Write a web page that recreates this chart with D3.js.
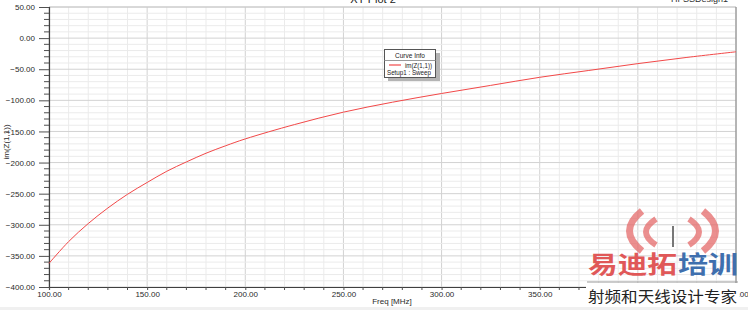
<!DOCTYPE html>
<html>
<head>
<meta charset="utf-8">
<script src="https://cdn.jsdelivr.net/npm/d3@7"></script>
<style>
  body { margin: 0; background: #fff; }
  text { font-family: "Liberation Sans", Arial, sans-serif; }
</style>
</head>
<body>
<script>
// values
var freqMHz = [100, 110, 120, 130, 140, 150, 160, 170, 180, 190, 200, 225, 250, 275, 300, 325, 350, 375, 400, 425, 450];
var imZ11 = [-362, -327, -298, -273, -251, -232, -214, -199, -185, -173, -162, -139, -119, -103, -89, -76, -63, -52, -41, -31, -22];
var xTicks = [100, 150, 200, 250, 300, 350, 400, 450];
var yTicks = [50, 0, -50, -100, -150, -200, -250, -300, -350, -400];

var svgWidth = 748;
var svgHeight = 310;
var plot = { left: 49, right: 736, top: 7, bottom: 287 };

var svg = d3.select("body")
  .append("svg")
    .attr("width", svgWidth)
    .attr("height", svgHeight);

var x = d3.scaleLinear().domain([100, 450]).range([plot.left, plot.right]);
var y = d3.scaleLinear().domain([-400, 50]).range([plot.bottom, plot.top]);

// grid
var minorX = d3.range(100, 451, 10);
var minorY = d3.range(-400, 51, 10);
svg.append("g").selectAll("line").data(minorX).enter().append("line")
  .attr("x1", d => x(d)).attr("x2", d => x(d))
  .attr("y1", plot.top).attr("y2", plot.bottom)
  .attr("stroke", d => d % 50 == 0 ? "#d2d2d2" : "#ebebeb")
  .attr("stroke-width", 1);
svg.append("g").selectAll("line").data(minorY).enter().append("line")
  .attr("x1", plot.left).attr("x2", plot.right)
  .attr("y1", d => y(d)).attr("y2", d => y(d))
  .attr("stroke", d => d % 50 == 0 ? "#d2d2d2" : "#ebebeb")
  .attr("stroke-width", 1);

// frame
svg.append("line").attr("x1", plot.left).attr("x2", plot.right).attr("y1", plot.top).attr("y2", plot.top)
  .attr("stroke", "#c8c8c8");
svg.append("line").attr("x1", plot.right).attr("x2", plot.right).attr("y1", plot.top).attr("y2", plot.bottom)
  .attr("stroke", "#808080");

// axes
var yAxis = svg.append("g")
  .attr("transform", "translate(" + plot.left + ",0)")
  .call(d3.axisLeft(y).tickValues(yTicks).tickSize(10).tickFormat(d3.format(".2f")));
var xAxis = svg.append("g")
  .attr("transform", "translate(0," + plot.bottom + ")")
  .call(d3.axisBottom(x).tickValues(xTicks).tickSize(3).tickFormat(d3.format(".2f")));

[yAxis, xAxis].forEach(function(a) {
  a.select(".domain").attr("stroke", "#404040").attr("stroke-width", 1.2);
  a.selectAll(".tick line").attr("stroke", "#505050");
  a.selectAll(".tick text").attr("font-size", 8).attr("fill", "#2a2a2a")
    .style("font-family", "'Liberation Sans', Arial, sans-serif");
});
yAxis.selectAll(".tick text").attr("x", -14);
xAxis.selectAll(".tick text").attr("y", 4);

// minor ticks
svg.append("g").selectAll("line").data(minorY.filter(d => d % 50 != 0)).enter().append("line")
  .attr("x1", plot.left - 5).attr("x2", plot.left)
  .attr("y1", d => y(d)).attr("y2", d => y(d))
  .attr("stroke", "#505050");
svg.append("g").selectAll("line").data(minorX.filter(d => d % 50 != 0)).enter().append("line")
  .attr("x1", d => x(d)).attr("x2", d => x(d))
  .attr("y1", plot.bottom).attr("y2", plot.bottom + 3)
  .attr("stroke", "#505050");

// curve
var line = d3.line()
  .x((d, i) => x(freqMHz[i]))
  .y(d => y(d))
  .curve(d3.curveCatmullRom.alpha(0.5));
svg.append("path")
  .datum(imZ11)
  .attr("d", line)
  .attr("fill", "none")
  .attr("stroke", "#f24848")
  .attr("stroke-width", 1);

// titles
svg.append("text").attr("x", 373).attr("y", 3).attr("text-anchor", "middle")
  .attr("font-size", 11).attr("fill", "#222").text("XY Plot 2");
svg.append("text").attr("x", 728).attr("y", 2).attr("text-anchor", "end")
  .attr("font-size", 9).attr("fill", "#333").text("HFSSDesign1");
svg.append("text").attr("x", 392).attr("y", 304).attr("text-anchor", "middle")
  .attr("font-size", 8).attr("fill", "#2a2a2a").text("Freq [MHz]");
svg.append("text")
  .attr("transform", "translate(9,142) rotate(-90)")
  .attr("text-anchor", "middle")
  .attr("font-size", 8).attr("fill", "#2a2a2a").text("im(Z(1,1))");

// legend
var lg = svg.append("g").attr("transform", "translate(384,49)");
lg.append("rect").attr("x", 4).attr("y", 4).attr("width", 52).attr("height", 28).attr("fill", "#b4b4b4");
lg.append("rect").attr("x", 0.5).attr("y", 0.5).attr("width", 51).attr("height", 28)
  .attr("fill", "#fff").attr("stroke", "#555");
lg.append("text").attr("x", 26).attr("y", 9).attr("text-anchor", "middle")
  .attr("font-size", 6.5).attr("fill", "#222").text("Curve Info");
lg.append("line").attr("x1", 0.5).attr("x2", 51.5).attr("y1", 11.5).attr("y2", 11.5).attr("stroke", "#999");
lg.append("line").attr("x1", 5).attr("x2", 17).attr("y1", 16).attr("y2", 16)
  .attr("stroke", "#f24848").attr("stroke-width", 1.2);
lg.append("text").attr("x", 21).attr("y", 18.5)
  .attr("font-size", 6.5).attr("fill", "#222")
  .attr("textLength", 27).attr("lengthAdjust", "spacingAndGlyphs").text("im(Z(1,1))");
lg.append("text").attr("x", 3).attr("y", 26)
  .attr("font-size", 6.5).attr("fill", "#222")
  .attr("textLength", 44).attr("lengthAdjust", "spacingAndGlyphs").text("Setup1 : Sweep");

// watermark
var wm = svg.append("g");
wm.append("rect").attr("x", 586).attr("y", 283).attr("width", 153).attr("height", 22).attr("fill", "#fff");
var waves = [
  [[642, 211], [617, 231], [642, 251], 7],
  [[656, 219], [636, 232], [656, 245], 6],
  [[689, 219], [709, 232], [689, 245], 6],
  [[703, 211], [728, 231], [703, 251], 7]
];
waves.forEach(function(w) {
  var p = d3.path();
  p.moveTo(w[0][0], w[0][1]);
  p.quadraticCurveTo(w[1][0], w[1][1], w[2][0], w[2][1]);
  wm.append("path").attr("d", p.toString())
    .attr("fill", "none").attr("stroke", "#e46a6a").attr("stroke-width", w[3])
    .attr("opacity", 0.75);
});
wm.append("line").attr("x1", 673).attr("x2", 673).attr("y1", 226).attr("y2", 247)
  .attr("stroke", "#777").attr("stroke-width", 2);
wm.append("text").attr("x", 588).attr("y", 273)
  .attr("font-size", 24).attr("font-weight", "bold").attr("fill", "#e05858")
  .attr("textLength", 89).attr("lengthAdjust", "spacingAndGlyphs")
  .style("font-family", "'Noto Sans CJK SC', sans-serif").text("易迪拓");
wm.append("text").attr("x", 678).attr("y", 273)
  .attr("font-size", 24).attr("font-weight", "bold").attr("fill", "#3f6fae")
  .attr("textLength", 60).attr("lengthAdjust", "spacingAndGlyphs")
  .style("font-family", "'Noto Sans CJK SC', sans-serif").text("培训");
wm.append("line").attr("x1", 587).attr("x2", 738).attr("y1", 282).attr("y2", 282)
  .attr("stroke", "#999").attr("stroke-width", 1);
wm.append("text").attr("x", 588).attr("y", 302)
  .attr("font-size", 15).attr("fill", "#222")
  .attr("textLength", 149).attr("lengthAdjust", "spacingAndGlyphs")
  .style("font-family", "'Noto Sans CJK SC', sans-serif").text("射频和天线设计专家");

// bottom strip
svg.append("rect").attr("x", 0).attr("y", 307).attr("width", svgWidth).attr("height", 3).attr("fill", "#f0f0f0");
</script>
</body>
</html>
